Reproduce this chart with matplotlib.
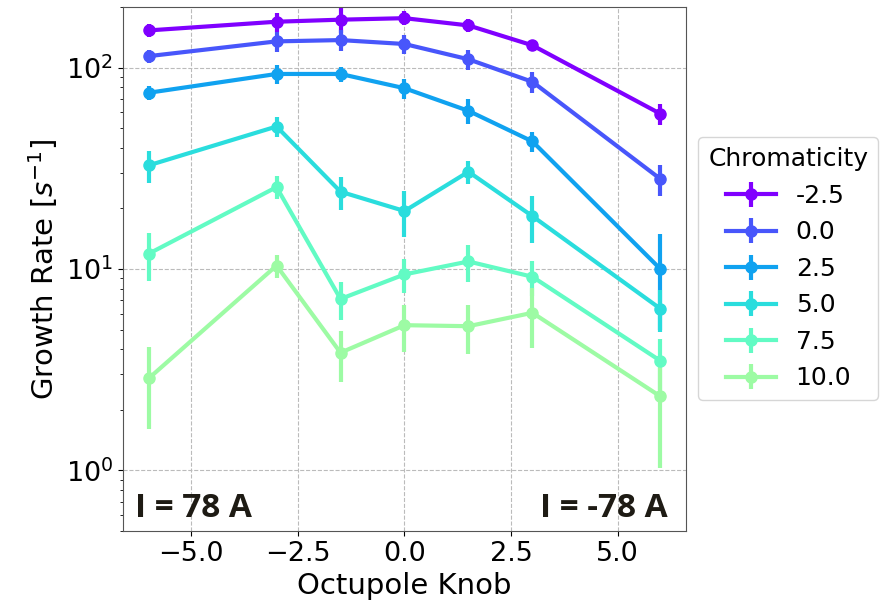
import numpy as np
import matplotlib
matplotlib.use('Agg')
import matplotlib.pyplot as plt

knob = [-6, -3, -1.5, 0, 1.5, 3, 6]
chroma = ['-2.5', '0.0', '2.5', '5.0', '7.5', '10.0']

rate_m25 = [153, 169, 173, 176, 162, 129, 59]
err_m25 = [11, 18, 24, 14, 12, 5, 7]
rate_0 = [114, 135, 137, 131, 110, 85, 28]
err_0 = [8, 16, 16, 14, 13, 10, 5]
rate_25 = [75, 93, 93, 79, 61, 43, 10]
err_25 = [6, 10, 8, 9, 8.5, 4.7, 5]
rate_5 = [32.7, 51, 24.2, 19.4, 30.4, 18.3, 6.35]
err_5 = [6, 6, 4.5, 5, 4, 4.8, 1.5]
rate_75 = [11.9, 25.5, 7.1, 9.4, 10.9, 9.15, 3.5]
err_75 = [3.2, 3.3, 1.5, 1.8, 2.3, 1.8, 1.0]
rate_10 = [2.86, 10.4, 3.84, 5.26, 5.2, 6.06, 2.33]
err_10 = [1.25, 1.4, 1.1, 1.4, 1.4, 2.0, 1.3]

rates = [rate_m25, rate_0, rate_25, rate_5, rate_75, rate_10]
errs = [err_m25, err_0, err_25, err_5, err_75, err_10]
colors = plt.cm.rainbow(np.linspace(0, 1, 10))[:6]

fig = plt.figure(figsize=(8.94, 6.03), dpi=100)
ax = fig.add_axes([0.1376, 0.1194, 0.6297, 0.8690])

for lab, r, e, c in zip(chroma, rates, errs, colors):
    ax.errorbar(knob, r, yerr=e, color=c, lw=3, elinewidth=3, marker='o',
                markersize=8, label=lab)

ax.set_yscale('log')
ax.set_ylim(0.5, 200)
ax.set_xlim(-6.6, 6.6)
ax.set_xticks([-5, -2.5, 0, 2.5, 5])
ax.set_xticklabels(['\u22125.0', '\u22122.5', '0.0', '2.5', '5.0'])
ax.grid(True, which='major', ls='--', color='#bbbbbb', lw=0.8)
ax.tick_params(labelsize=19.5)
for s in ax.spines.values():
    s.set_color('#555555')

ax.set_xlabel('Octupole Knob', fontsize=21)
ax.set_ylabel('Growth Rate [$s^{-1}$]', fontsize=21)

ax.text(0.021, 0.027, 'I = 78 A', transform=ax.transAxes, fontsize=24,
        fontweight='bold', family='Open Sans', color='#1e1b14')
ax.text(0.968, 0.027, 'I = -78 A', transform=ax.transAxes, fontsize=24,
        fontweight='bold', family='Open Sans', color='#1e1b14', ha='right')

ax.legend(title='Chromaticity', loc='center left', bbox_to_anchor=(1.0, 0.5),
          fontsize=18, title_fontsize=18)

fig.savefig('out.png', dpi=100)
